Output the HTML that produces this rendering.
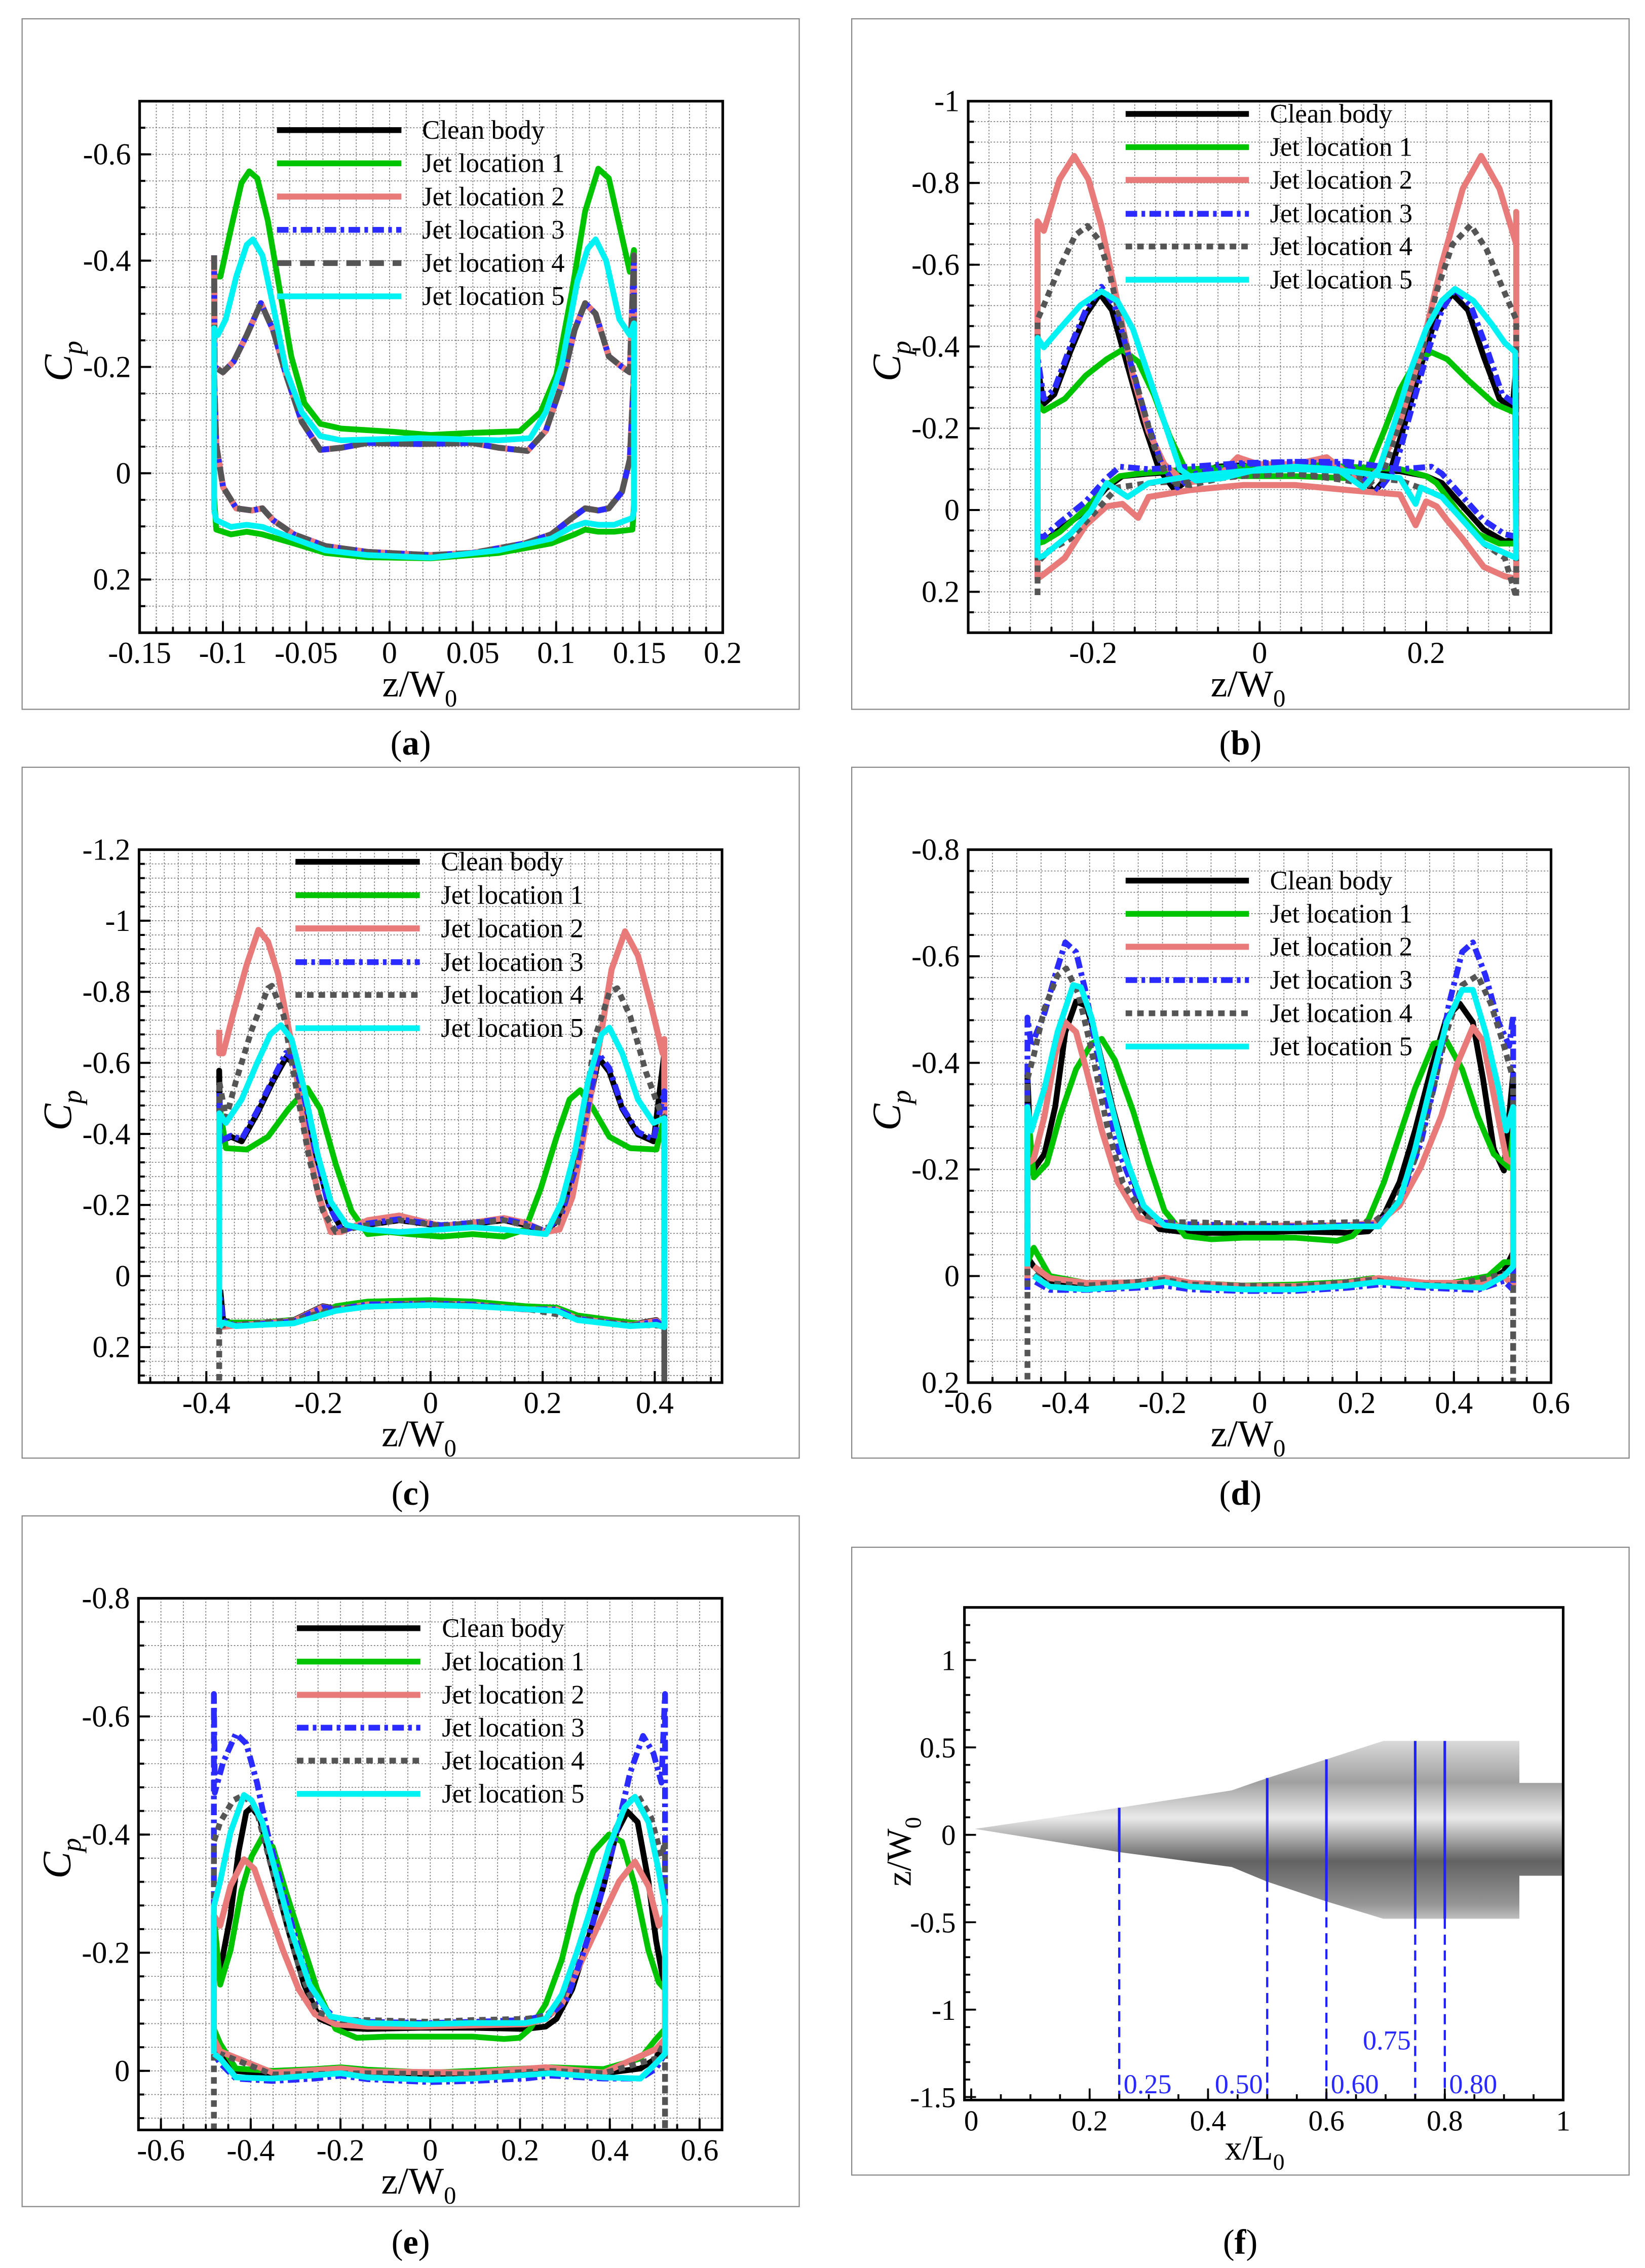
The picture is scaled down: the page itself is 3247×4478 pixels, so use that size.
<!DOCTYPE html>
<html><head><meta charset="utf-8"><title>Cp distributions</title>
<style>
html,body{margin:0;padding:0;background:#fff;}
svg{display:block;}
text{font-family:"Liberation Serif","DejaVu Serif",serif;}
</style></head>
<body>
<svg id="fig" xmlns="http://www.w3.org/2000/svg" width="3247" height="4478" viewBox="0 0 1138 1569" preserveAspectRatio="none">
<defs>
<linearGradient id="bodyGrad" gradientUnits="userSpaceOnUse" x1="0" y1="1203" x2="0" y2="1327">
<stop offset="0" stop-color="#dcdcdc"/><stop offset="0.24" stop-color="#a0a0a0"/><stop offset="0.44" stop-color="#eaeaea"/><stop offset="0.68" stop-color="#626262"/><stop offset="0.92" stop-color="#959595"/><stop offset="1" stop-color="#bdbdbd"/>
</linearGradient>
</defs>
</svg>
<script>
// ---------- data ----------
const seriesNames = ['Clean body','Jet location 1','Jet location 2','Jet location 3','Jet location 4','Jet location 5'];

const A_clean = [[-0.1053,-0.41],[-0.105,-0.2],[-0.1,-0.19],[-0.0936,-0.21],[-0.0857,-0.26],[-0.0772,-0.32],[-0.07,-0.27],[-0.0621,-0.185],[-0.0527,-0.097],[-0.0416,-0.044],[-0.029,-0.048],[-0.0133,-0.057],[0.0182,-0.055],[0.0497,-0.057],[0.0655,-0.048],[0.0828,-0.042],[0.0938,-0.08],[0.1033,-0.167],[0.1111,-0.27],[0.1174,-0.32],[0.1237,-0.30],[0.1316,-0.22],[0.1395,-0.2],[0.1442,-0.19],[0.1467,-0.41],[0.1467,-0.19],[0.1442,-0.026],[0.1395,0.035],[0.1316,0.066],[0.1253,0.07],[0.1174,0.066],[0.1096,0.084],[0.097,0.115],[0.0812,0.132],[0.0497,0.15],[0.0245,0.154],[-0.0133,0.148],[-0.0385,0.137],[-0.0574,0.115],[-0.07,0.088],[-0.0763,0.066],[-0.0826,0.07],[-0.092,0.066],[-0.0999,0.026],[-0.104,-0.053],[-0.1053,-0.185]];
const A_jet1 = [[-0.1053,0.044],[-0.1053,-0.37],[-0.1015,-0.37],[-0.0952,-0.46],[-0.0889,-0.546],[-0.0842,-0.568],[-0.0794,-0.555],[-0.0731,-0.476],[-0.0668,-0.361],[-0.059,-0.22],[-0.0511,-0.132],[-0.0416,-0.093],[-0.029,-0.084],[0.0025,-0.078],[0.0245,-0.072],[0.0497,-0.076],[0.0781,-0.079],[0.0907,-0.115],[0.1001,-0.185],[0.1096,-0.344],[0.1174,-0.493],[0.1253,-0.573],[0.1316,-0.555],[0.1379,-0.467],[0.1442,-0.379],[0.1467,-0.42],[0.1467,0.057],[0.1458,0.106],[0.1348,0.11],[0.1253,0.11],[0.1174,0.106],[0.1111,0.115],[0.097,0.132],[0.0655,0.15],[0.0245,0.16],[-0.0133,0.158],[-0.0385,0.15],[-0.0574,0.132],[-0.0763,0.115],[-0.0857,0.11],[-0.0952,0.115],[-0.104,0.106],[-0.1053,0.044]];
const A_jet2 = A_clean;
const A_jet3 = A_clean;
const A_jet4 = A_clean;
const A_jet5 = [[-0.1053,0.07],[-0.1053,-0.273],[-0.1031,-0.26],[-0.0983,-0.29],[-0.092,-0.37],[-0.0857,-0.43],[-0.082,-0.44],[-0.0763,-0.41],[-0.07,-0.317],[-0.0621,-0.194],[-0.0527,-0.115],[-0.0416,-0.07],[-0.029,-0.062],[0.0182,-0.066],[0.0655,-0.062],[0.0844,-0.066],[0.0938,-0.115],[0.1033,-0.203],[0.1127,-0.361],[0.119,-0.423],[0.1237,-0.44],[0.13,-0.4],[0.1379,-0.29],[0.1442,-0.26],[0.1467,-0.282],[0.1467,0.07],[0.1458,0.084],[0.1348,0.097],[0.1253,0.097],[0.1174,0.093],[0.1096,0.101],[0.097,0.123],[0.0655,0.145],[0.0245,0.159],[-0.0133,0.154],[-0.0385,0.145],[-0.0574,0.123],[-0.0763,0.101],[-0.0857,0.097],[-0.0952,0.101],[-0.104,0.088],[-0.1053,0.07]];

const B_clean = [[-0.2667,0.071],[-0.2667,-0.35],[-0.2592,-0.26],[-0.2466,-0.283],[-0.2277,-0.386],[-0.2088,-0.478],[-0.1918,-0.529],[-0.1774,-0.489],[-0.1585,-0.352],[-0.1396,-0.215],[-0.1208,-0.1],[-0.1019,-0.049],[-0.083,-0.078],[-0.0516,-0.106],[-0.0013,-0.112],[0.0428,-0.112],[0.0931,-0.106],[0.1245,-0.078],[0.1371,-0.043],[0.156,-0.089],[0.1749,-0.215],[0.1937,-0.352],[0.2126,-0.478],[0.2315,-0.529],[0.2503,-0.489],[0.2692,-0.375],[0.2881,-0.272],[0.3038,-0.249],[0.308,-0.35],[0.308,0.071],[0.2944,0.077],[0.2692,0.048],[0.244,-0.009],[0.2189,-0.066],[0.2,-0.083],[0.1686,-0.095],[0.1057,-0.1],[0.0428,-0.106],[-0.0201,-0.103],[-0.083,-0.095],[-0.1333,-0.089],[-0.1648,-0.083],[-0.1837,-0.055],[-0.2088,0.002],[-0.2403,0.048],[-0.2592,0.077],[-0.2667,0.071]];
const B_jet1 = [[-0.2667,0.082],[-0.2667,-0.26],[-0.2592,-0.243],[-0.234,-0.272],[-0.2088,-0.329],[-0.1837,-0.369],[-0.1648,-0.392],[-0.1459,-0.363],[-0.1271,-0.283],[-0.1082,-0.181],[-0.0893,-0.1],[-0.0705,-0.089],[-0.0201,-0.083],[0.0428,-0.083],[0.1057,-0.078],[0.1308,-0.1],[0.1497,-0.194],[0.1686,-0.295],[0.1874,-0.363],[0.2063,-0.386],[0.2252,-0.369],[0.2503,-0.318],[0.2818,-0.26],[0.3069,-0.238],[0.308,0.082],[0.2881,0.082],[0.2629,0.059],[0.2378,0.002],[0.2126,-0.066],[0.2,-0.083],[0.1686,-0.1],[0.1057,-0.106],[0.0428,-0.112],[-0.0201,-0.106],[-0.083,-0.1],[-0.1459,-0.089],[-0.1679,-0.083],[-0.1837,-0.061],[-0.2088,-0.003],[-0.2403,0.054],[-0.2592,0.077],[-0.2667,0.082]];
const B_jet2 = [[-0.2667,-0.65],[-0.2667,-0.706],[-0.2592,-0.683],[-0.2403,-0.809],[-0.2227,-0.866],[-0.2057,-0.809],[-0.19,-0.695],[-0.1711,-0.512],[-0.1522,-0.329],[-0.1333,-0.192],[-0.1145,-0.112],[-0.0893,-0.066],[-0.0516,-0.078],[-0.0264,-0.129],[-0.0013,-0.112],[0.0428,-0.112],[0.0805,-0.129],[0.1057,-0.089],[0.1245,-0.066],[0.1434,-0.1],[0.1686,-0.215],[0.1937,-0.386],[0.2189,-0.603],[0.244,-0.786],[0.2661,-0.866],[0.2881,-0.786],[0.3082,-0.65],[0.3082,-0.729],[0.3082,0.168],[0.2944,0.162],[0.2692,0.139],[0.244,0.071],[0.2252,0.025],[0.2126,-0.009],[0.2,-0.021],[0.1874,0.037],[0.1686,-0.038],[0.1057,-0.049],[0.0428,-0.061],[-0.0201,-0.061],[-0.083,-0.049],[-0.1333,-0.032],[-0.1459,0.019],[-0.1648,-0.015],[-0.1837,-0.009],[-0.2088,0.037],[-0.234,0.117],[-0.2592,0.157],[-0.2667,0.168],[-0.2667,-0.65]];
const B_jet3 = [[-0.2667,0.065],[-0.2667,-0.375],[-0.2592,-0.272],[-0.2466,-0.295],[-0.2277,-0.398],[-0.2088,-0.489],[-0.19,-0.546],[-0.1742,-0.5],[-0.1554,-0.363],[-0.1365,-0.226],[-0.1176,-0.112],[-0.0988,-0.055],[-0.0767,-0.089],[-0.0201,-0.112],[0.0428,-0.118],[0.1057,-0.112],[0.1308,-0.066],[0.1434,-0.049],[0.1623,-0.1],[0.1812,-0.238],[0.2,-0.375],[0.2189,-0.489],[0.2346,-0.541],[0.2535,-0.5],[0.2724,-0.398],[0.2912,-0.283],[0.3069,-0.26],[0.308,-0.375],[0.308,0.065],[0.2944,0.059],[0.2692,0.025],[0.244,-0.032],[0.2189,-0.089],[0.2063,-0.106],[0.1686,-0.1],[0.1057,-0.118],[0.0428,-0.118],[-0.0201,-0.115],[-0.083,-0.106],[-0.1333,-0.1],[-0.1679,-0.106],[-0.1837,-0.078],[-0.2088,-0.021],[-0.2403,0.031],[-0.2592,0.065],[-0.2667,0.065]];
const B_jet4 = [[-0.2667,0.208],[-0.2667,-0.466],[-0.2592,-0.501],[-0.2403,-0.592],[-0.2214,-0.672],[-0.2069,-0.695],[-0.1931,-0.661],[-0.1805,-0.581],[-0.1648,-0.443],[-0.1459,-0.295],[-0.1271,-0.158],[-0.1082,-0.066],[-0.083,-0.061],[-0.0453,-0.078],[-0.0013,-0.089],[0.0428,-0.089],[0.1057,-0.072],[0.1308,-0.061],[0.1497,-0.1],[0.1686,-0.215],[0.1937,-0.375],[0.2126,-0.535],[0.2315,-0.649],[0.2535,-0.697],[0.2724,-0.638],[0.2912,-0.546],[0.3082,-0.466],[0.3082,0.214],[0.2944,0.117],[0.2692,0.082],[0.244,0.025],[0.2189,-0.032],[0.2,-0.049],[0.1686,-0.072],[0.1057,-0.083],[0.0428,-0.089],[-0.0201,-0.083],[-0.083,-0.072],[-0.1333,-0.066],[-0.1711,-0.055],[-0.1963,0.002],[-0.2277,0.071],[-0.2529,0.099],[-0.2667,0.128]];
const B_jet5 = [[-0.2667,0.117],[-0.2667,-0.421],[-0.2592,-0.398],[-0.2403,-0.443],[-0.2151,-0.501],[-0.19,-0.535],[-0.1711,-0.512],[-0.1522,-0.443],[-0.1333,-0.329],[-0.1145,-0.215],[-0.0956,-0.1],[-0.0767,-0.072],[-0.0453,-0.078],[-0.0013,-0.1],[0.0428,-0.106],[0.0931,-0.1],[0.1245,-0.055],[0.1434,-0.1],[0.1623,-0.215],[0.1812,-0.341],[0.2,-0.443],[0.2189,-0.512],[0.2346,-0.541],[0.2566,-0.512],[0.2786,-0.455],[0.2944,-0.409],[0.3069,-0.386],[0.308,0.117],[0.2944,0.105],[0.2692,0.082],[0.244,0.025],[0.2189,-0.032],[0.1937,-0.055],[0.1874,-0.015],[0.1686,-0.078],[0.1057,-0.095],[0.0428,-0.1],[-0.0201,-0.095],[-0.083,-0.083],[-0.1333,-0.066],[-0.1585,-0.032],[-0.1837,-0.066],[-0.2025,0.002],[-0.2277,0.059],[-0.2592,0.111],[-0.2667,0.117]];

const C_clean = [[-0.377,0.144],[-0.377,-0.578],[-0.375,-0.379],[-0.356,-0.392],[-0.337,-0.379],[-0.309,-0.458],[-0.281,-0.549],[-0.258,-0.614],[-0.244,-0.601],[-0.225,-0.497],[-0.206,-0.353],[-0.183,-0.209],[-0.159,-0.131],[-0.112,-0.144],[-0.056,-0.157],[0.019,-0.141],[0.075,-0.147],[0.131,-0.157],[0.169,-0.144],[0.206,-0.124],[0.234,-0.17],[0.262,-0.314],[0.286,-0.51],[0.3,-0.614],[0.319,-0.575],[0.342,-0.471],[0.37,-0.399],[0.398,-0.379],[0.417,-0.627],[0.417,0.144],[0.403,0.124],[0.356,0.137],[0.262,0.118],[0.225,0.092],[0.169,0.092],[0.075,0.078],[0,0.076],[-0.112,0.078],[-0.169,0.092],[-0.192,0.085],[-0.244,0.124],[-0.347,0.137],[-0.37,0.124],[-0.375,0.039]];
const C_jet1 = [[-0.377,0.144],[-0.377,-0.484],[-0.365,-0.36],[-0.328,-0.356],[-0.29,-0.392],[-0.253,-0.471],[-0.22,-0.529],[-0.197,-0.471],[-0.169,-0.314],[-0.141,-0.183],[-0.112,-0.118],[-0.075,-0.124],[-0.037,-0.118],[0.019,-0.111],[0.075,-0.118],[0.131,-0.111],[0.169,-0.131],[0.197,-0.248],[0.225,-0.392],[0.248,-0.497],[0.267,-0.523],[0.29,-0.471],[0.319,-0.392],[0.356,-0.36],[0.403,-0.356],[0.417,-0.45],[0.417,0.144],[0.403,0.137],[0.356,0.131],[0.262,0.111],[0.225,0.089],[0.169,0.085],[0.075,0.072],[0,0.068],[-0.112,0.072],[-0.169,0.085],[-0.206,0.118],[-0.3,0.131],[-0.365,0.131],[-0.377,0.144]];
const C_jet2 = [[-0.377,-0.693],[-0.377,-0.627],[-0.37,-0.627],[-0.351,-0.745],[-0.328,-0.876],[-0.307,-0.974],[-0.29,-0.941],[-0.272,-0.85],[-0.248,-0.654],[-0.225,-0.418],[-0.201,-0.235],[-0.178,-0.124],[-0.159,-0.124],[-0.112,-0.157],[-0.056,-0.17],[0.019,-0.141],[0.075,-0.15],[0.131,-0.163],[0.169,-0.15],[0.206,-0.124],[0.23,-0.131],[0.253,-0.222],[0.276,-0.418],[0.3,-0.641],[0.323,-0.863],[0.347,-0.97],[0.37,-0.902],[0.394,-0.758],[0.414,-0.627],[0.417,-0.667],[0.417,0.144],[0.403,0.126],[0.356,0.139],[0.262,0.12],[0.225,0.094],[0.169,0.094],[0.075,0.08],[0,0.078],[-0.112,0.08],[-0.169,0.094],[-0.192,0.087],[-0.244,0.126],[-0.347,0.139],[-0.377,0.144]];
const C_jet3 = [[-0.377,0.144],[-0.377,-0.52],[-0.375,-0.38],[-0.356,-0.395],[-0.337,-0.385],[-0.309,-0.465],[-0.281,-0.555],[-0.258,-0.628],[-0.244,-0.61],[-0.225,-0.5],[-0.206,-0.353],[-0.183,-0.205],[-0.159,-0.128],[-0.112,-0.148],[-0.056,-0.16],[0.019,-0.143],[0.075,-0.15],[0.131,-0.16],[0.169,-0.147],[0.206,-0.126],[0.234,-0.175],[0.262,-0.32],[0.286,-0.52],[0.3,-0.625],[0.319,-0.585],[0.342,-0.475],[0.37,-0.405],[0.398,-0.385],[0.417,-0.52],[0.417,0.144],[0.403,0.128],[0.356,0.14],[0.262,0.12],[0.225,0.094],[0.169,0.094],[0.075,0.08],[0,0.078],[-0.112,0.08],[-0.169,0.094],[-0.192,0.088],[-0.244,0.128],[-0.347,0.14],[-0.37,0.126],[-0.377,0.04]];
const C_jet4 = [[-0.377,0.294],[-0.377,-0.549],[-0.365,-0.444],[-0.347,-0.549],[-0.319,-0.693],[-0.29,-0.81],[-0.283,-0.817],[-0.262,-0.732],[-0.239,-0.523],[-0.216,-0.327],[-0.192,-0.183],[-0.169,-0.124],[-0.112,-0.144],[-0.056,-0.157],[0.019,-0.141],[0.131,-0.157],[0.197,-0.131],[0.225,-0.144],[0.248,-0.261],[0.272,-0.444],[0.295,-0.68],[0.319,-0.797],[0.333,-0.81],[0.356,-0.732],[0.384,-0.575],[0.408,-0.471],[0.417,-0.444],[0.417,0.294],[0.417,0.14],[0.356,0.137],[0.262,0.118],[0.169,0.092],[0,0.076],[-0.169,0.092],[-0.244,0.124],[-0.347,0.137],[-0.377,0.14]];
const C_jet5 = [[-0.377,0.144],[-0.377,-0.458],[-0.365,-0.431],[-0.337,-0.497],[-0.309,-0.601],[-0.286,-0.68],[-0.267,-0.706],[-0.248,-0.667],[-0.225,-0.523],[-0.201,-0.34],[-0.178,-0.209],[-0.15,-0.144],[-0.112,-0.131],[-0.056,-0.124],[0.019,-0.131],[0.075,-0.137],[0.131,-0.131],[0.169,-0.124],[0.206,-0.118],[0.234,-0.209],[0.258,-0.353],[0.281,-0.549],[0.305,-0.68],[0.319,-0.699],[0.342,-0.627],[0.37,-0.497],[0.398,-0.431],[0.417,-0.444],[0.417,0.144],[0.403,0.137],[0.356,0.141],[0.262,0.124],[0.225,0.098],[0.075,0.085],[0,0.082],[-0.112,0.086],[-0.169,0.098],[-0.244,0.133],[-0.347,0.141],[-0.37,0.131],[-0.377,0.144]];

const D_clean = [[-0.478,-0.035],[-0.478,-0.379],[-0.47,-0.194],[-0.443,-0.229],[-0.421,-0.317],[-0.4,-0.458],[-0.378,-0.515],[-0.357,-0.507],[-0.335,-0.441],[-0.303,-0.317],[-0.271,-0.211],[-0.239,-0.123],[-0.206,-0.088],[-0.142,-0.081],[-0.034,-0.081],[0.073,-0.084],[0.181,-0.081],[0.224,-0.084],[0.256,-0.115],[0.288,-0.176],[0.32,-0.273],[0.353,-0.388],[0.385,-0.485],[0.412,-0.511],[0.439,-0.476],[0.46,-0.37],[0.482,-0.238],[0.503,-0.198],[0.522,-0.379],[0.522,-0.044],[0.503,-0.009],[0.471,0.009],[0.396,0.016],[0.288,0.013],[0.234,0.004],[0.181,0.011],[0.073,0.018],[-0.034,0.018],[-0.142,0.013],[-0.196,0.004],[-0.249,0.011],[-0.357,0.016],[-0.432,0.009],[-0.465,-0.018],[-0.478,-0.035]];
const D_jet1 = [[-0.478,-0.026],[-0.478,-0.317],[-0.465,-0.185],[-0.438,-0.211],[-0.411,-0.3],[-0.378,-0.388],[-0.346,-0.436],[-0.325,-0.445],[-0.298,-0.405],[-0.26,-0.308],[-0.228,-0.211],[-0.196,-0.123],[-0.153,-0.075],[-0.099,-0.069],[-0.034,-0.072],[0.073,-0.072],[0.159,-0.066],[0.191,-0.075],[0.224,-0.106],[0.256,-0.176],[0.288,-0.264],[0.32,-0.352],[0.358,-0.436],[0.385,-0.441],[0.417,-0.388],[0.449,-0.3],[0.482,-0.229],[0.514,-0.203],[0.522,-0.273],[0.522,-0.026],[0.503,-0.026],[0.471,0],[0.396,0.013],[0.288,0.013],[0.234,0.004],[0.181,0.011],[0.073,0.016],[-0.034,0.018],[-0.142,0.013],[-0.196,0.004],[-0.249,0.012],[-0.357,0.013],[-0.432,0],[-0.465,-0.053],[-0.478,-0.026]];
const D_jet2 = [[-0.478,0.018],[-0.478,-0.211],[-0.465,-0.22],[-0.443,-0.3],[-0.421,-0.414],[-0.4,-0.476],[-0.378,-0.458],[-0.357,-0.388],[-0.325,-0.273],[-0.292,-0.176],[-0.249,-0.11],[-0.206,-0.097],[-0.142,-0.093],[-0.034,-0.093],[0.073,-0.095],[0.181,-0.095],[0.245,-0.101],[0.288,-0.132],[0.331,-0.203],[0.374,-0.3],[0.406,-0.396],[0.439,-0.467],[0.46,-0.441],[0.487,-0.317],[0.508,-0.22],[0.522,-0.211],[0.522,0.018],[0.503,0],[0.449,0.013],[0.342,0.013],[0.245,0.004],[0.181,0.013],[0.073,0.019],[-0.034,0.019],[-0.142,0.013],[-0.196,0.003],[-0.249,0.012],[-0.357,0.013],[-0.432,0.004],[-0.465,-0.018]];
const D_jet3 = [[-0.478,0.026],[-0.478,-0.485],[-0.47,-0.432],[-0.443,-0.493],[-0.421,-0.564],[-0.4,-0.626],[-0.378,-0.608],[-0.357,-0.529],[-0.325,-0.37],[-0.292,-0.238],[-0.249,-0.141],[-0.206,-0.101],[-0.142,-0.097],[-0.034,-0.095],[0.073,-0.093],[0.181,-0.095],[0.245,-0.097],[0.288,-0.141],[0.331,-0.247],[0.363,-0.37],[0.39,-0.511],[0.417,-0.608],[0.439,-0.626],[0.465,-0.564],[0.492,-0.476],[0.514,-0.432],[0.522,-0.489],[0.522,0.026],[0.503,0.009],[0.449,0.026],[0.342,0.022],[0.245,0.016],[0.181,0.022],[0.073,0.028],[-0.034,0.028],[-0.142,0.025],[-0.196,0.018],[-0.249,0.022],[-0.357,0.026],[-0.432,0.026],[-0.465,0.009]];
const D_jet4 = [[-0.478,0.194],[-0.478,-0.37],[-0.465,-0.414],[-0.443,-0.502],[-0.416,-0.564],[-0.398,-0.577],[-0.373,-0.529],[-0.346,-0.423],[-0.314,-0.282],[-0.282,-0.176],[-0.239,-0.115],[-0.196,-0.101],[-0.142,-0.101],[-0.034,-0.098],[0.073,-0.098],[0.181,-0.101],[0.234,-0.101],[0.277,-0.132],[0.32,-0.22],[0.353,-0.335],[0.385,-0.458],[0.417,-0.546],[0.449,-0.564],[0.476,-0.511],[0.503,-0.432],[0.522,-0.37],[0.522,0.198],[0.522,-0.004],[0.503,-0.004],[0.396,0.018],[0.288,0.016],[0.234,0.007],[0.073,0.02],[-0.142,0.016],[-0.196,0.007],[-0.357,0.018],[-0.443,0.013],[-0.47,-0.009]];
const D_jet5 = [[-0.478,-0.018],[-0.478,-0.317],[-0.47,-0.273],[-0.443,-0.352],[-0.416,-0.458],[-0.384,-0.546],[-0.368,-0.542],[-0.346,-0.485],[-0.314,-0.352],[-0.282,-0.238],[-0.239,-0.132],[-0.196,-0.095],[-0.142,-0.09],[-0.034,-0.09],[0.073,-0.09],[0.181,-0.093],[0.245,-0.093],[0.288,-0.141],[0.32,-0.238],[0.353,-0.361],[0.385,-0.476],[0.417,-0.537],[0.439,-0.537],[0.465,-0.458],[0.492,-0.352],[0.508,-0.273],[0.522,-0.317],[0.522,-0.018],[0.503,0],[0.46,0.022],[0.342,0.018],[0.245,0.011],[0.181,0.018],[0.073,0.025],[-0.034,0.025],[-0.142,0.02],[-0.196,0.011],[-0.249,0.018],[-0.357,0.025],[-0.432,0.02],[-0.465,0]];

const E_clean = [[-0.482,-0.054],[-0.482,-0.171],[-0.468,-0.171],[-0.445,-0.263],[-0.427,-0.371],[-0.41,-0.438],[-0.398,-0.446],[-0.38,-0.429],[-0.351,-0.338],[-0.316,-0.238],[-0.281,-0.146],[-0.246,-0.088],[-0.199,-0.073],[-0.14,-0.071],[-0.023,-0.073],[0.094,-0.073],[0.211,-0.071],[0.257,-0.075],[0.281,-0.088],[0.316,-0.138],[0.351,-0.221],[0.386,-0.313],[0.415,-0.404],[0.439,-0.439],[0.462,-0.421],[0.486,-0.321],[0.503,-0.221],[0.515,-0.171],[0.523,-0.138],[0.523,-0.054],[0.503,-0.021],[0.468,-0.004],[0.386,0.004],[0.269,0],[0.234,-0.004],[0.211,0],[0.094,0.006],[0,0.006],[-0.14,0.004],[-0.199,0],[-0.257,0.003],[-0.351,0.006],[-0.433,0],[-0.468,-0.029],[-0.482,-0.054]];
const E_jet1 = [[-0.482,-0.071],[-0.482,-0.263],[-0.468,-0.146],[-0.445,-0.204],[-0.421,-0.304],[-0.398,-0.363],[-0.374,-0.396],[-0.351,-0.379],[-0.322,-0.304],[-0.287,-0.221],[-0.252,-0.138],[-0.211,-0.071],[-0.164,-0.056],[-0.094,-0.058],[-0.023,-0.058],[0.094,-0.058],[0.164,-0.054],[0.199,-0.056],[0.222,-0.071],[0.257,-0.113],[0.293,-0.188],[0.328,-0.296],[0.363,-0.371],[0.398,-0.4],[0.427,-0.388],[0.456,-0.313],[0.486,-0.204],[0.509,-0.15],[0.523,-0.138],[0.523,-0.071],[0.503,-0.054],[0.468,-0.021],[0.386,-0.003],[0.269,-0.006],[0.094,0],[0,0.003],[-0.14,-0.002],[-0.199,-0.006],[-0.257,-0.003],[-0.351,0],[-0.433,-0.004],[-0.468,-0.046],[-0.482,-0.071]];
const E_jet2 = [[-0.482,-0.054],[-0.482,-0.263],[-0.468,-0.246],[-0.445,-0.313],[-0.415,-0.358],[-0.392,-0.342],[-0.363,-0.279],[-0.328,-0.204],[-0.293,-0.138],[-0.257,-0.096],[-0.211,-0.079],[-0.14,-0.075],[-0.023,-0.075],[0.094,-0.077],[0.211,-0.079],[0.257,-0.088],[0.293,-0.113],[0.328,-0.171],[0.374,-0.246],[0.421,-0.321],[0.456,-0.354],[0.486,-0.313],[0.509,-0.246],[0.523,-0.263],[0.523,-0.054],[0.503,-0.037],[0.386,0.003],[0.257,-0.006],[0.094,0.003],[-0.14,0.001],[-0.199,-0.004],[-0.351,0.003],[-0.468,-0.033],[-0.482,-0.054]];
const E_jet3 = [[-0.482,-0.029],[-0.482,-0.638],[-0.48,-0.471],[-0.462,-0.521],[-0.433,-0.571],[-0.41,-0.554],[-0.386,-0.488],[-0.363,-0.404],[-0.328,-0.304],[-0.293,-0.204],[-0.257,-0.121],[-0.211,-0.089],[-0.14,-0.083],[0,-0.081],[0.094,-0.083],[0.211,-0.086],[0.269,-0.096],[0.304,-0.121],[0.339,-0.196],[0.374,-0.279],[0.41,-0.388],[0.445,-0.504],[0.474,-0.567],[0.497,-0.538],[0.515,-0.488],[0.523,-0.638],[0.523,-0.029],[0.503,-0.004],[0.468,0.013],[0.386,0.013],[0.269,0.008],[0.211,0.013],[0.094,0.017],[0,0.019],[-0.14,0.014],[-0.199,0.008],[-0.257,0.013],[-0.351,0.017],[-0.433,0.013],[-0.468,-0.013],[-0.482,-0.029]];
const E_jet4 = [[-0.482,0.1],[-0.482,-0.388],[-0.468,-0.421],[-0.439,-0.458],[-0.415,-0.467],[-0.386,-0.438],[-0.357,-0.354],[-0.322,-0.254],[-0.287,-0.163],[-0.252,-0.1],[-0.199,-0.086],[-0.14,-0.086],[0,-0.083],[0.094,-0.086],[0.211,-0.088],[0.257,-0.092],[0.293,-0.121],[0.328,-0.204],[0.374,-0.313],[0.41,-0.404],[0.439,-0.454],[0.462,-0.467],[0.492,-0.429],[0.515,-0.363],[0.523,-0.388],[0.523,0.1],[0.523,-0.05],[0.503,-0.021],[0.386,0.004],[0.269,0],[0.094,0.006],[-0.14,0.004],[-0.351,0.006],[-0.468,-0.029]];
const E_jet5 = [[-0.482,-0.029],[-0.482,-0.279],[-0.468,-0.321],[-0.445,-0.404],[-0.415,-0.467],[-0.398,-0.458],[-0.374,-0.421],[-0.345,-0.338],[-0.31,-0.238],[-0.269,-0.146],[-0.222,-0.092],[-0.14,-0.081],[-0.023,-0.079],[0.094,-0.081],[0.211,-0.081],[0.257,-0.088],[0.293,-0.129],[0.328,-0.204],[0.363,-0.288],[0.398,-0.379],[0.433,-0.446],[0.456,-0.464],[0.486,-0.421],[0.509,-0.338],[0.523,-0.279],[0.523,-0.029],[0.503,-0.013],[0.468,0.013],[0.386,0.011],[0.269,0.004],[0.094,0.013],[0,0.015],[-0.14,0.011],[-0.199,0.004],[-0.351,0.013],[-0.433,0.011],[-0.468,-0.021],[-0.482,-0.029]];

// panel (f) body geometry (x/L0, z/W0)
const F_bodyUpper = [[0.006,0.034],[0.25,0.155],[0.44,0.254],[0.5,0.325],[0.6,0.432],[0.696,0.537],[0.926,0.537],[0.926,0.297],[1,0.297]];
const F_bodyLower = [[1,-0.234],[0.926,-0.234],[0.926,-0.48],[0.696,-0.48],[0.6,-0.381],[0.5,-0.268],[0.44,-0.184],[0.25,-0.099],[0.006,0.034]];
const F_stations = [0.25,0.50,0.60,0.75,0.80];
const F_stationLabels = ['0.25','0.50','0.60','0.75','0.80'];
const F_xTicks = [0,0.2,0.4,0.6,0.8,1];
const F_yTicks = [1,0.5,0,-0.5,-1,-1.5];

// ---------- rendering ----------
const svg = document.getElementById('fig');
const NS = 'http://www.w3.org/2000/svg';
function mk(tag, attrs, parent){
  const e = document.createElementNS(NS, tag);
  for (const k in attrs) e.setAttribute(k, attrs[k]);
  (parent||svg).appendChild(e);
  return e;
}
function fmt(v){ const r = Math.round(v*1000)/1000; return (Object.is(r,-0)?0:r).toString(); }

const colors = ['#000000','#00c400','#e87a7a','#2b2bff','#555555','#00f2f2'];
const panels = [
  {id:'a', box:[15.3,13,552.9,490.7], x0:96.6,x1:500,y0:70,y1:437.7, xmin:-0.15,xmax:0.2, ymin:-0.7,ymax:0.3,
   xLab:[-0.15,-0.1,-0.05,0,0.05,0.1,0.15,0.2], yLab:[-0.6,-0.4,-0.2,0,0.2], xg:0.01, yg:0.05, xm:0.01, ym:0.05,
   leg:{l0:191.6,l1:277.7,tx:292,y:[90,113,136,159,182,205]}, dash4:'10,6',
   data:[A_clean,A_jet1,A_jet2,A_jet3,A_jet4,A_jet5], label:'(a)', ly:522},
  {id:'b', box:[589.2,13,1127,490.7], x0:669.8,x1:1073,y0:70,y1:437.7, xmin:-0.35,xmax:0.35, ymin:-1,ymax:0.3,
   xLab:[-0.2,0,0.2], yLab:[-1,-0.8,-0.6,-0.4,-0.2,0,0.2], xg:0.025, yg:0.05, xm:0.05, ym:0.05,
   leg:{l0:778.7,l1:864,tx:878.5,y:[78.8,101.8,124.5,147.9,170.5,193.5]}, dash4:'4.5,3.5',
   data:[B_clean,B_jet1,B_jet2,B_jet3,B_jet4,B_jet5], label:'(b)', ly:522},
  {id:'c', box:[15.3,530.8,552.9,1008.7], x0:96.2,x1:499.5,y0:587.8,y1:956.5, xmin:-0.52,xmax:0.52, ymin:-1.2,ymax:0.3,
   xLab:[-0.4,-0.2,0,0.2,0.4], yLab:[-1.2,-1,-0.8,-0.6,-0.4,-0.2,0,0.2], xg:0.025, yg:0.04, xm:0.05, ym:0.04,
   leg:{l0:204.4,l1:290.4,tx:305,y:[596.2,619.3,642.3,665.6,688.3,711.3]}, dash4:'4.5,3.5',
   data:[C_clean,C_jet1,C_jet2,C_jet3,C_jet4,C_jet5], label:'(c)', ly:1041},
  {id:'d', box:[589.2,530.8,1127,1008.7], x0:669.8,x1:1073,y0:587.8,y1:956.5, xmin:-0.6,xmax:0.6, ymin:-0.8,ymax:0.2,
   xLab:[-0.6,-0.4,-0.2,0,0.2,0.4,0.6], yLab:[-0.8,-0.6,-0.4,-0.2,0,0.2], xg:0.05, yg:0.04, xm:0.05, ym:0.04,
   leg:{l0:778.7,l1:864,tx:878.5,y:[609.2,632.2,655,678,701,724]}, dash4:'4.5,3.5',
   data:[D_clean,D_jet1,D_jet2,D_jet3,D_jet4,D_jet5], label:'(d)', ly:1041},
  {id:'e', box:[15.3,1048.7,552.9,1526.5], x0:95.8,x1:499.5,y0:1105.7,y1:1473.5, xmin:-0.65,xmax:0.65, ymin:-0.8,ymax:0.1,
   xLab:[-0.6,-0.4,-0.2,0,0.2,0.4,0.6], yLab:[-0.8,-0.6,-0.4,-0.2,0], xg:0.05, yg:0.04, xm:0.05, ym:0.04,
   leg:{l0:205.4,l1:290.8,tx:305.7,y:[1126.4,1149.5,1172.5,1195.2,1218,1241]}, dash4:'4.5,3.5',
   data:[E_clean,E_jet1,E_jet2,E_jet3,E_jet4,E_jet5], label:'(e)', ly:1559}
];

function gridVals(min,max,step){
  const out=[]; const s=Math.ceil(min/step-1e-6), e=Math.floor(max/step+1e-6);
  for(let i=s;i<=e;i++) out.push(i*step);
  return out;
}

panels.forEach(p=>{
  const g = mk('g',{});
  
  
  const X = v => p.x0 + (v-p.xmin)/(p.xmax-p.xmin)*(p.x1-p.x0);
  const Y = v => p.y0 + (v-p.ymin)/(p.ymax-p.ymin)*(p.y1-p.y0);
  const box = mk('rect',{x:p.box[0],y:p.box[1],width:p.box[2]-p.box[0],height:p.box[3]-p.box[1],fill:'none',stroke:'#8a8a8a','stroke-width':0.8},g);
  
  
  const grid = mk('g',{stroke:'#7a7a7a','stroke-width':0.6,'stroke-dasharray':'1,1.2'},g);
  
  
  gridVals(p.xmin,p.xmax,p.xg).forEach(v=>{ const x=X(v); if(x>p.x0+0.5&&x<p.x1-0.5) mk('line',{x1:x,x2:x,y1:p.y0,y2:p.y1},grid); });
  gridVals(p.ymin,p.ymax,p.yg).forEach(v=>{ const y=Y(v); if(y>p.y0+0.5&&y<p.y1-0.5) mk('line',{x1:p.x0,x2:p.x1,y1:y,y2:y},grid); });
  const tk = mk('g',{stroke:'#000','stroke-width':1.4},g);
  
  
  gridVals(p.xmin,p.xmax,p.xm).forEach(v=>{ const x=X(v); mk('line',{x1:x,x2:x,y1:p.y1,y2:p.y1-4},tk); });
  p.xLab.forEach(v=>{ const x=X(v); mk('line',{x1:x,x2:x,y1:p.y1,y2:p.y1-8},tk); });
  gridVals(p.ymin,p.ymax,p.ym).forEach(v=>{ const y=Y(v); mk('line',{x1:p.x0,x2:p.x0+4,y1:y,y2:y},tk); });
  p.yLab.forEach(v=>{ const y=Y(v); mk('line',{x1:p.x0,x2:p.x0+8,y1:y,y2:y},tk); });
  p.xLab.forEach(v=>{
    const t = mk('text',{x:X(v),y:p.y1+21,'font-size':21,'text-anchor':'middle'},g);
    
    
    t.textContent = fmt(v);
  });
  p.yLab.forEach(v=>{
    const t = mk('text',{x:p.x0-6,y:Y(v)+7,'font-size':21,'text-anchor':'end'},g);
    
    
    t.textContent = fmt(v);
  });
  const clipId = 'clip'+p.id;
  const cp = mk('clipPath',{id:clipId},g);
  mk('rect',{x:p.x0,y:p.y0,width:p.x1-p.x0,height:p.y1-p.y0},cp);
  const sg = mk('g',{'clip-path':'url(#'+clipId+')',fill:'none','stroke-linejoin':'round'},g);
  
  
  const styleFor = i => {
    const s = {stroke:colors[i],'stroke-width':4};
    if(i===3) s['stroke-dasharray']='8,3,2.5,3';
    if(i===4) s['stroke-dasharray']=p.dash4;
    if(i===2) s['stroke-width']=4.2;
    return s;
  };
  p.data.forEach((arr,i)=>{
    const d = arr.map((pt,k)=>(k?'L':'M')+X(pt[0]).toFixed(2)+','+Y(pt[1]).toFixed(2)).join('');
    const path = mk('path',Object.assign({d:d},styleFor(i)),sg);
    
    
  });
  const lg = mk('g',{},g);
  
  
  seriesNames.forEach((n,i)=>{
    const y = p.leg.y[i];
    const ln = mk('line',Object.assign({x1:p.leg.l0,x2:p.leg.l1,y1:y,y2:y},styleFor(i)),lg);
    
    
    const t = mk('text',{x:p.leg.tx,y:y+6,'font-size':18.5},lg);
    
    
    t.textContent = n;
  });
  const fr = mk('rect',{x:p.x0,y:p.y0,width:p.x1-p.x0,height:p.y1-p.y0,fill:'none',stroke:'#000','stroke-width':1.8},g);
  
  
  const xt = mk('text',{x:(p.x0+p.x1)/2-8,y:p.y1+44,'font-size':26,'text-anchor':'middle'},g);
  
  
  xt.innerHTML = 'z/W<tspan font-size="17" dy="7">0</tspan>';
  const yc = (p.y0+p.y1)/2;
  const yt = mk('text',{x:0,y:0,'font-size':28,'font-style':'italic','text-anchor':'middle',transform:'translate('+(p.x0-47)+','+(yc-4)+') rotate(-90)'},g);
  
  
  yt.innerHTML = 'C<tspan font-size="19" dy="7">p</tspan>';
  const pl = mk('text',{x:(p.box[0]+p.box[2])/2,y:p.ly,'font-size':24,'text-anchor':'middle'},g);
  
  
  pl.innerHTML = '(<tspan font-weight="bold">'+p.id+'</tspan>)';
});

// ---------- panel (f) ----------
(function(){
  const g = mk('g',{});
  
  
  const fx0=667.2, fx1=1081.4, fy0=1112, fy1=1452.8;
  const X = v => 671.9 + v*409.5;
  const Y = v => 1148.4 + (1-v)*120.93;
  const box = mk('rect',{x:589.2,y:1070.4,width:537.8,height:434.3,fill:'none',stroke:'#8a8a8a','stroke-width':0.8},g);
  
  
  const pts = F_bodyUpper.concat(F_bodyLower).map(p=>X(p[0]).toFixed(2)+','+Y(p[1]).toFixed(2)).join(' ');
  const body = mk('polygon',{points:pts,fill:'url(#bodyGrad)',stroke:'none'},g);
  
  
  const upperZ = x => { for(let i=0;i<F_bodyUpper.length-1;i++){const a=F_bodyUpper[i],b=F_bodyUpper[i+1]; if(x>=a[0]&&x<=b[0]&&b[0]>a[0]) return a[1]+(b[1]-a[1])*(x-a[0])/(b[0]-a[0]);} return 0.537; };
  const lowerPts = F_bodyLower.slice().reverse();
  const lowerZ = x => { for(let i=0;i<lowerPts.length-1;i++){const a=lowerPts[i],b=lowerPts[i+1]; if(x>=a[0]&&x<=b[0]&&b[0]>a[0]) return a[1]+(b[1]-a[1])*(x-a[0])/(b[0]-a[0]);} return -0.48; };
  F_stations.forEach((s,i)=>{
    const x = X(s);
    const sl = mk('line',{x1:x,x2:x,y1:Y(upperZ(s)),y2:Y(lowerZ(s)),stroke:'#2020ff','stroke-width':1.8},g);
    
    
    const dl = mk('line',{x1:x,x2:x,y1:Y(lowerZ(s)),y2:fy1,stroke:'#2020ff','stroke-width':1.5,'stroke-dasharray':'7,4'},g);
    
    
    const left = (i===1||i===3);
    const ty = (i===3) ? Y(-1.17) : Y(-1.42);
    const t = mk('text',{x:left?x-3:x+3,y:ty+7,'font-size':19,fill:'#2a2aff','text-anchor':left?'end':'start'},g);
    
    
    t.textContent = F_stationLabels[i];
  });
  const tk = mk('g',{stroke:'#000','stroke-width':1.3},g);
  
  
  gridVals(0,1,0.05).forEach(v=>{ mk('line',{x1:X(v),x2:X(v),y1:fy1,y2:fy1-4},tk); });
  F_xTicks.forEach(v=>{ mk('line',{x1:X(v),x2:X(v),y1:fy1,y2:fy1-8},tk); });
  gridVals(-1.5,1.3,0.1).forEach(v=>{ mk('line',{x1:fx0,x2:fx0+4,y1:Y(v),y2:Y(v)},tk); });
  F_yTicks.forEach(v=>{ mk('line',{x1:fx0,x2:fx0+8,y1:Y(v),y2:Y(v)},tk); });
  F_xTicks.forEach(v=>{
    const t = mk('text',{x:X(v),y:fy1+21,'font-size':20,'text-anchor':'middle'},g);
    
    
    t.textContent = fmt(v);
  });
  F_yTicks.forEach(v=>{
    const t = mk('text',{x:fx0-6,y:Y(v)+7,'font-size':20,'text-anchor':'end'},g);
    
    
    t.textContent = fmt(v);
  });
  const fr = mk('rect',{x:fx0,y:fy0,width:fx1-fx0,height:fy1-fy0,fill:'none',stroke:'#000','stroke-width':1.8},g);
  
  
  const xt = mk('text',{x:868,y:1494,'font-size':24,'text-anchor':'middle'},g);
  
  
  xt.innerHTML = 'x/L<tspan font-size="16" dy="7">0</tspan>';
  const yt = mk('text',{x:0,y:0,'font-size':24,'text-anchor':'middle',transform:'translate(630,1281) rotate(-90)'},g);
  
  
  yt.innerHTML = 'z/W<tspan font-size="16" dy="7">0</tspan>';
  const pl = mk('text',{x:858,y:1559,'font-size':24,'text-anchor':'middle'},g);
  
  
  pl.innerHTML = '(<tspan font-weight="bold">f</tspan>)';
})();
</script>
</body></html>
